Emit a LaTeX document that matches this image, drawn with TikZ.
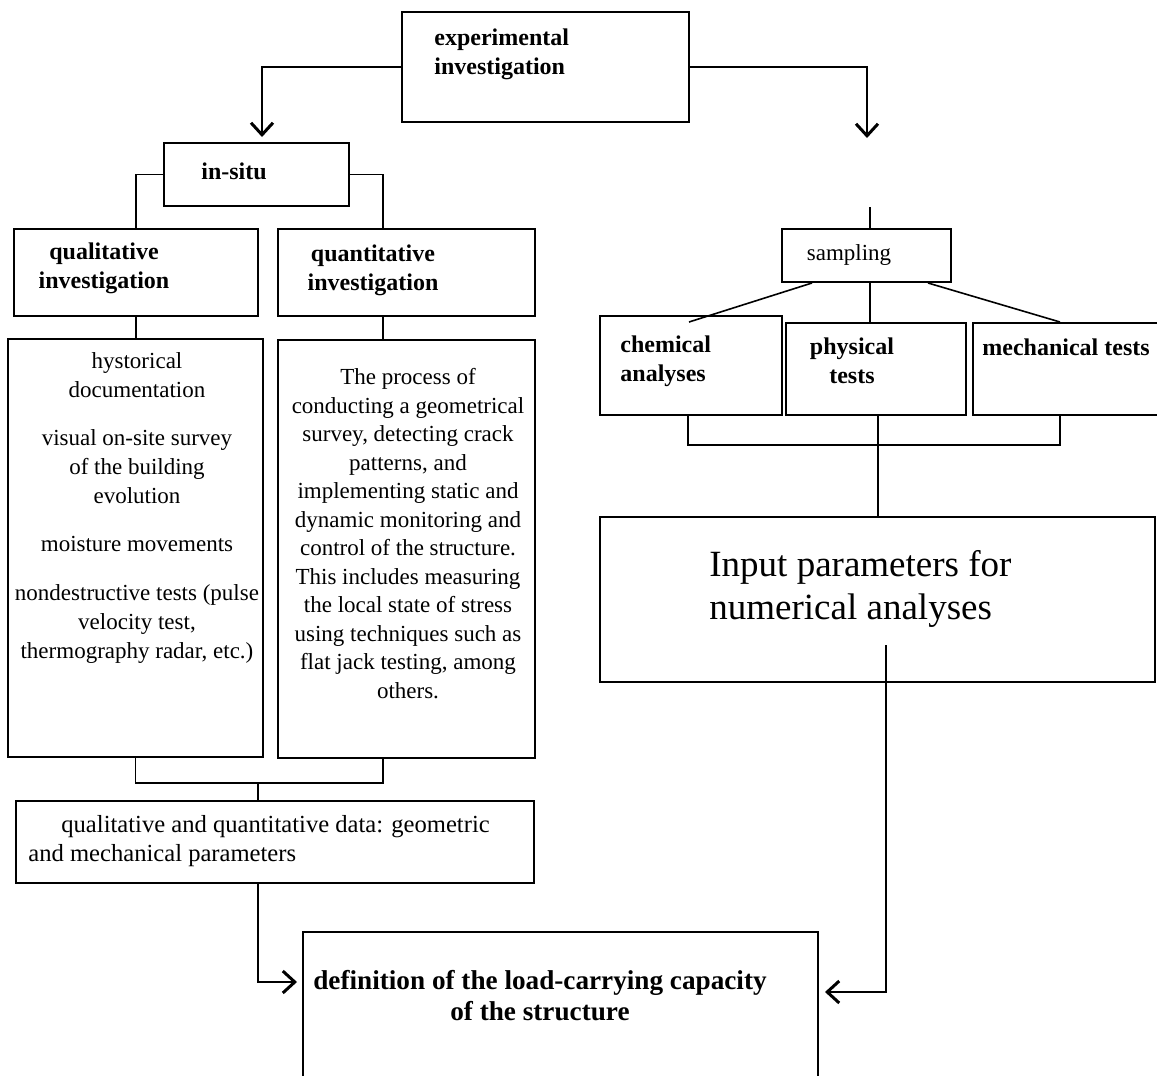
\documentclass[tikz,border=0pt]{standalone}
\usepackage{fontspec}
\setmainfont{Liberation Serif}
\usetikzlibrary{positioning,arrows.meta,calc}
\tikzset{
  chartbox/.style={draw, line width=1pt, inner sep=0pt},
  charttext/.style={inner sep=0pt, align=center, font=\fontsize{11.5}{14.5}\selectfont},
  charthead/.style={inner sep=0pt, align=center, font=\fontsize{12}{14.5}\selectfont\bfseries},
  chartline/.style={line width=0.8pt},
  chartarrow/.style={line width=0.8pt, -{Straight Barb[length=6pt, width=11pt, line width=1.5pt]}},
}

\begin{document}
\begin{tikzpicture}[x=0.5pt, y=-0.5pt]
  \clip (0,0) rectangle (1157,1076);
  % boxes
  \node[chartbox, minimum width=143.5pt, minimum height=55pt] (expbox) at (545.5,67) {};
  \node[chartbox, minimum width=92.5pt, minimum height=31.5pt] (insitu) at (256.5,174.5) {};
  \node[chartbox, minimum width=122pt, minimum height=43.5pt] (qualbox) at (136,272.5) {};
  \node[chartbox, minimum width=128.5pt, minimum height=43.5pt] (quantbox) at (406.5,272.5) {};
  \node[chartbox, minimum width=127.5pt, minimum height=209pt] (leftbig) at (135.5,548) {};
  \node[chartbox, minimum width=128.5pt, minimum height=209pt] (rightbig) at (406.5,549) {};
  \node[chartbox, minimum width=259pt, minimum height=41pt] (databox) at (275,842) {};
  \node[chartbox, minimum width=257.5pt, minimum height=84pt] (defbox) at (560.5,1016) {};
  \node[chartbox, minimum width=84.5pt, minimum height=26.5pt] (sampbox) at (866.5,255.5) {};
  \node[chartbox, minimum width=91pt, minimum height=49.5pt] (chembox) at (691,365.5) {};
  \node[chartbox, minimum width=90pt, minimum height=46pt] (physbox) at (876,369) {};
  \node[chartbox, minimum width=101pt, minimum height=46pt] (mechbox) at (1074,369) {};
  \node[chartbox, minimum width=277.5pt, minimum height=82.5pt] (inputbox) at (877.5,599.5) {};
  % texts
  \node[charthead, align=left, anchor=west] (exptxt) at (434,54) {experimental\\investigation};
  \node[charthead, anchor=west] (insitutxt) at (201,171) {in-situ};
  \node[charthead] (qualtxt) at (104,268) {qualitative\\investigation};
  \node[charthead] (quanttxt) at (373,270) {quantitative\\investigation};
  \node[charttext, anchor=north] (lefttxt) at (137,352) {hystorical\\documentation\\[9.5pt]
    visual on-site survey\\of the building\\evolution\\[9.5pt]
    moisture movements\\[10pt]
    nondestructive tests (pulse\\velocity test,\\thermography radar, etc.)};
  \node[charttext, anchor=north, font=\fontsize{11.5}{14.25}\selectfont] (righttxt) at (408,368) {The process of\\conducting a geometrical\\survey, detecting crack\\patterns, and\\implementing static and\\dynamic monitoring and\\control of the structure.\\This includes measuring\\the local state of stress\\using techniques such as\\flat jack testing, among\\others.};
  \node[charttext, align=left, anchor=west, font=\fontsize{12.3}{14.5}\selectfont] (datatxt) at (28,841) {\hspace*{16.5pt}qualitative and quantitative data: geometric\\and mechanical parameters};
  \node[charthead, font=\fontsize{13.6}{15.5}\selectfont\bfseries] (deftxt) at (540,996) {definition of the load-carrying capacity\\of the structure};
  \node[charttext] (samptxt) at (849,255) {sampling};
  \node[charthead, align=left, anchor=west] (chemtxt) at (620,361) {chemical\\analyses};
  \node[charthead] (phystxt) at (852,361) {physical\\tests};
  \node[charthead] (mechtxt) at (1066,347) {mechanical tests};
  \node[charttext, align=left, anchor=west, font=\fontsize{18.5}{21.5}\selectfont] (inputtxt) at (709,589) {Input parameters for\\numerical analyses};
  % free ends
  \coordinate (arrL) at (262,137);
  \coordinate (arrR) at (867,138);
  \coordinate (sampin) at (870,207);
  \coordinate (brk) at (258,782);
  \coordinate (defin) at (297,982);
  \coordinate (inpout) at (886,645);
  \coordinate (defright) at (825,992);
  % left branch
  \draw[chartarrow, line width=1.2pt] (expbox.west) -| (arrL);
  \draw[chartline] (insitu.west) -| (qualbox.north);
  \draw[chartline] (insitu.east) -| ([xshift=-11.75pt]quantbox.north);
  \draw[chartline] (qualbox.south) -- (qualbox.south |- leftbig.north);
  \draw[chartline] ([xshift=-11.75pt]quantbox.south) -- ([xshift=-11.75pt]quantbox.south |- rightbig.north);
  \draw[chartline] (leftbig.south) -- ++(0,25) -| ([xshift=-11.75pt]rightbig.south);
  \draw[chartline] (brk) -- (brk |- databox.north);
  \draw[chartarrow] (brk |- databox.south) |- (defin);
  % right branch
  \draw[chartarrow, line width=1.2pt] (expbox.east) -| (arrR);
  \draw[chartline] (sampin) -- (sampin |- sampbox.north);
  \draw[chartline] ([xshift=-27.25pt]sampbox.south) -- ([xshift=-1pt, yshift=-3.5pt]chembox.north);
  \draw[chartline] ([xshift=1.75pt]sampbox.south) -- ([xshift=1.75pt]sampbox.south |- physbox.north);
  \draw[chartline] ([xshift=30.75pt]sampbox.south) -- ([xshift=-7pt]mechbox.north);
  \draw[chartline] ([xshift=-1.5pt]chembox.south) -- ++(0,29) -| ([xshift=-7pt]mechbox.south);
  \draw[chartline] ([xshift=1pt]physbox.south) -- ([xshift=1pt]physbox.south |- inputbox.north);
  \draw[chartarrow] (inpout) |- (defright);
\end{tikzpicture}
\end{document}
